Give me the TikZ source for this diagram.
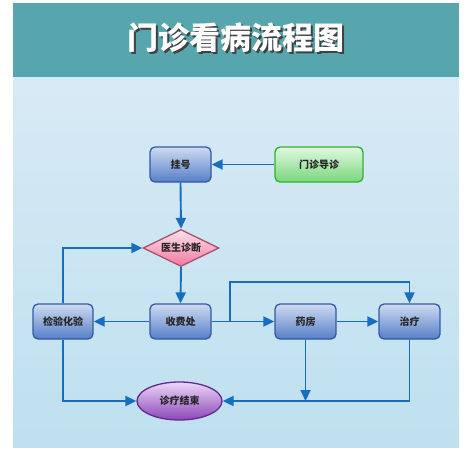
\documentclass[tikz,border=0pt]{standalone}
\usepackage{fontspec}
\newfontfamily\cjk{Noto Sans CJK SC}
\usetikzlibrary{arrows.meta,shapes.geometric}
\definecolor{band}{RGB}{87,166,174}
\definecolor{bgtop}{RGB}{216,234,245}
\definecolor{bgbot}{RGB}{190,224,239}
\definecolor{conncol}{RGB}{24,110,190}
\definecolor{boxtop}{RGB}{206,219,240}
\definecolor{boxbot}{RGB}{86,126,200}
\definecolor{boxline}{RGB}{50,90,165}
\definecolor{grtop}{RGB}{225,248,225}
\definecolor{grbot}{RGB}{120,215,125}
\definecolor{grline}{RGB}{45,180,45}
\definecolor{pktop}{RGB}{255,225,235}
\definecolor{pkbot}{RGB}{240,120,160}
\definecolor{pkline}{RGB}{170,80,110}
\definecolor{putop}{RGB}{236,215,248}
\definecolor{pubot}{RGB}{140,70,185}
\definecolor{puline}{RGB}{100,40,140}
\tikzset{
  base/.style={font=\cjk\bfseries\fontsize{10}{12}\selectfont, text=black!85, inner sep=0pt, line width=1.3pt},
  bluebox/.style={base, rectangle, rounded corners=5pt, minimum width=61pt, minimum height=35pt, draw=boxline, top color=boxtop, bottom color=boxbot},
  greenbox/.style={base, rectangle, rounded corners=5pt, minimum width=88pt, minimum height=35pt, draw=grline, top color=grtop, bottom color=grbot},
  pinkdia/.style={base, diamond, aspect=2.05, minimum width=76pt, minimum height=37pt, draw=pkline, top color=pktop, bottom color=pkbot},
  purpell/.style={base, ellipse, minimum width=85pt, minimum height=38pt, draw=puline, top color=putop, bottom color=pubot},
  conn/.style={draw=conncol, line width=1.9pt, -{Triangle[length=11pt,width=10pt]}},
  plain/.style={draw=conncol, line width=1.9pt}
}
\begin{document}
\begin{tikzpicture}[x=1pt,y=-1pt]
\useasboundingbox (0,0) rectangle (476,452);
\fill[white] (0,0) rectangle (476,452);
% background areas
\shade[top color=bgtop, bottom color=bgbot] (13,77) rectangle (459,447);
\fill[band] (13,3) rectangle (459,77);
\fill[white!40!cyan!35] (13,76.5) rectangle (459,78.5);
% title
\node[font=\cjk\bfseries\fontsize{31}{31}\selectfont, text=black!75] (tshadow) at (237.5,39.5) {门诊看病流程图};
\node[font=\cjk\bfseries\fontsize{31}{31}\selectfont, text=white] (title) at (235.5,37.5) {门诊看病流程图};
% nodes
\node[bluebox] (gh) at (180.5,164.5) {挂号};
\node[greenbox] (mz) at (319,164.5) {门诊导诊};
\node[pinkdia] (dx) at (181,248) {医生诊断};
\node[bluebox, minimum width=60pt] (jy) at (63,321.5) {检验化验};
\node[bluebox] (sf) at (180.5,321.5) {收费处};
\node[bluebox] (yf) at (305.5,321.5) {药房};
\node[bluebox] (zl) at (409.5,321.5) {治疗};
\node[purpell] (js) at (179.5,401) {诊疗结束};
% connectors
\draw[conn] (mz.west) -- (gh.east);
\draw[conn] (gh.south) -- (dx.north);
\draw[conn] (dx.south) -- (sf.north);
\draw[conn] (sf.west) -- (jy.east);
\draw[conn] (jy.north) |- (dx.west);
\draw[conn] (sf.east) -- (yf.west);
\coordinate (br) at (230,321.5);
\coordinate (brtop) at (230,282);
\draw[conn] (br) -- (brtop) -| (zl.north);
\draw[conn] (yf.east) -- (zl.west);
\draw[conn] (jy.south) |- (js.west);
\draw[conn] (zl.south) |- (js.east);
\coordinate (yfb) at (yf.south |- js.east);
\draw[conn] (yf.south) -- (yfb);
\end{tikzpicture}
\end{document}
